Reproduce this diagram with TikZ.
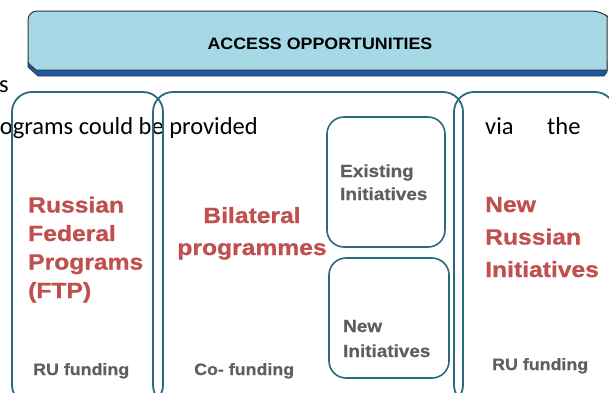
\documentclass[tikz,border=0pt]{standalone}
\usepackage{fontspec}
\setmainfont{Liberation Sans}
\newfontfamily\bodyfont{Carlito}
\newfontfamily\boldfont[FakeStretch=1.08,FakeBold=0.6]{Liberation Sans Bold}
\newfontfamily\titlefont[FakeStretch=1.08]{Liberation Sans Bold}
\newfontfamily\redfont[FakeStretch=1.12,FakeBold=0.9]{Liberation Sans Bold}
\definecolor{tealline}{HTML}{2B6A7C}
\definecolor{redtext}{HTML}{C0504D}
\definecolor{greytext}{HTML}{5E5E5E}
\definecolor{topfill}{HTML}{A5D9E6}
\definecolor{bandblue}{HTML}{1A5AA6}
\tikzset{
  groupbox/.style={draw=tealline, line width=1.8pt, rounded corners=20pt},
  innerbox/.style={draw=tealline, line width=1.6pt, rounded corners=17pt},
  redlabel/.style={inner sep=0pt, text=redtext, align=left},
  greylabel/.style={inner sep=0pt, text=greytext, anchor=base west, font=\boldfont\fontsize{16.5}{18}\selectfont},
  bodytext/.style={inner sep=0pt, anchor=base west, font=\bodyfont\fontsize{24.5}{28}\selectfont}
}
\begin{document}
\begin{tikzpicture}[x=1pt,y=-1pt]
\useasboundingbox (0,0) rectangle (609,392);
% top header box with band
\path[fill=bandblue, draw=black!80, line width=0.8pt] (28,62) -- (28,67) -- (38,76) -- (604,76) -- (607,72) -- (607,62) -- cycle;
\path[fill=topfill, draw=black!80, line width=1pt, rounded corners=9pt] (28,40) -- (28,11) -- (601,11) [sharp corners] -- (607,16) -- (607,70) -- (36,70) -- (28,63) -- cycle;
\node[inner sep=0pt, anchor=base, font=\titlefont\fontsize{16.5}{18}\selectfont] (title) at (320,49) {ACCESS OPPORTUNITIES};
% background body text
\node[bodytext] (s) at (-1,92) {s};
\node[bodytext, anchor=base east] (line2) at (258,134) {rograms could be provided};
\node[bodytext] (via) at (485,134) {via};
\node[bodytext] (the) at (547,134) {the};
% group boxes
\draw[groupbox] (12,92) rectangle (163,405);
\draw[groupbox] (153,92) rectangle (463,405);
\draw[groupbox] (454,92) rectangle (615,405);
\draw[innerbox] (327,117) rectangle (445,247);
\draw[innerbox] (329,258) rectangle (449,378);
% red labels (anchor = baseline of last line)
\node[redlabel, anchor=base west, font=\redfont\fontsize{22}{28.5}\selectfont] (rfp) at (28,298) {Russian\\Federal\\Programs\\(FTP)};
\node[redlabel, anchor=base, align=center, font=\redfont\fontsize{22}{32}\selectfont] (bil) at (252,255) {Bilateral\\programmes};
\node[redlabel, anchor=base west, font=\redfont\fontsize{22}{32.5}\selectfont] (nri) at (485,277) {New\\Russian\\Initiatives};
% grey labels
\node[greylabel, align=left, font=\boldfont\fontsize{17.5}{23}\selectfont] (exi) at (340,200) {Existing\\Initiatives};
\node[greylabel, align=left, font=\boldfont\fontsize{17.5}{25}\selectfont] (newi) at (343,357) {New\\Initiatives};
\node[greylabel] (ru1) at (33,375) {RU funding};
\node[greylabel] (co) at (194,375) {Co- funding};
\node[greylabel] (ru2) at (492,370) {RU funding};
\end{tikzpicture}
\end{document}
